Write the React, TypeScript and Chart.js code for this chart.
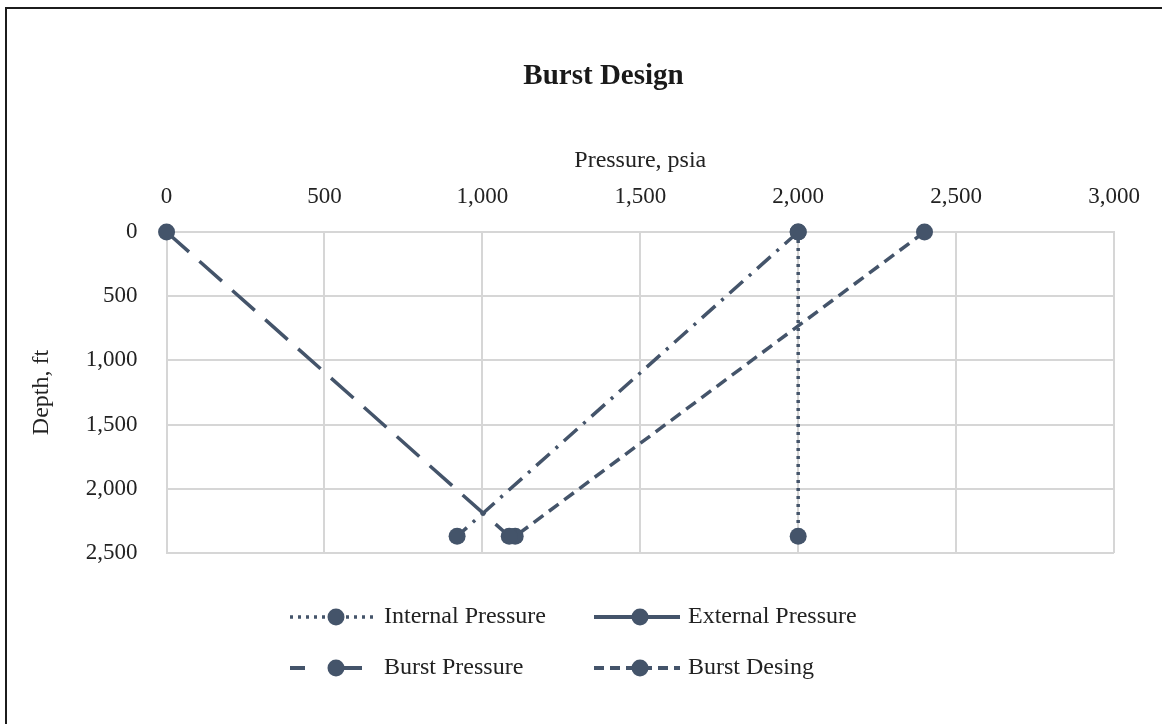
import React, { useEffect, useRef } from "react";
import { Chart, registerables } from "chart.js";

Chart.register(...registerables);

// ---- Data ----
const seriesNames = ["Internal Pressure", "External Pressure", "Burst Pressure", "Burst Desing"];
const depthFt = [0, 2370];
const internalPressure = [2000, 2000];
const externalPressure = [0, 1085];
const burstPressure = [2000, 920];
const burstDesign = [2400, 1104];
const xTickValues = [0, 500, 1000, 1500, 2000, 2500, 3000];
const yTickValues = [0, 500, 1000, 1500, 2000, 2500];

const FONT = "'Liberation Serif', 'Times New Roman', serif";
const SERIES_COLOR = "#44546A";
const GRID = "#d6d6d6";
const TEXT = "#222222";

const plotDashes: number[][] = [[3, 5], [30, 14], [18, 8, 3, 8], [12, 7]];
const legendDashes: number[][] = [[3, 5], [], [15, 31, 30], [10, 6]];

// Shift the chart title so it sits centred on the full (wider) framed figure
const titleShiftPlugin = {
  id: "titleShift",
  afterLayout(chart: any) {
    const tb = chart.titleBlock;
    if (tb) {
      tb.left += 33;
      tb.right += 33;
    }
  },
};

const legendPlugin = {
  id: "customLegend",
  afterDraw(chart: any) {
    const ctx = chart.ctx as CanvasRenderingContext2D;
    const cols = [290, 594];
    const rows = [617, 668];
    seriesNames.forEach((name, i) => {
      const x0 = cols[i % 2];
      const y = rows[Math.floor(i / 2)];
      ctx.save();
      ctx.strokeStyle = SERIES_COLOR;
      ctx.lineWidth = i === 0 ? 3.5 : 4;
      ctx.setLineDash(legendDashes[i]);
      ctx.beginPath();
      ctx.moveTo(x0, y);
      ctx.lineTo(x0 + (i === 2 ? 72 : 86), y);
      ctx.stroke();
      ctx.setLineDash([]);
      ctx.fillStyle = SERIES_COLOR;
      ctx.beginPath();
      ctx.arc(x0 + 46, y, 8.5, 0, Math.PI * 2);
      ctx.fill();
      ctx.fillStyle = TEXT;
      ctx.font = `24px ${FONT}`;
      ctx.textBaseline = "middle";
      ctx.textAlign = "left";
      ctx.fillText(name, x0 + 94, y);
      ctx.restore();
    });
  },
};

const fmt = (v: any) => Number(v).toLocaleString("en-US");

export default function App() {
  const canvasRef = useRef<HTMLCanvasElement | null>(null);

  useEffect(() => {
    if (!canvasRef.current) return;
    const seriesX = [internalPressure, externalPressure, burstPressure, burstDesign];
    const datasets = seriesX.map((xs, i) => ({
      label: seriesNames[i],
      data: xs.map((x, k) => ({ x, y: depthFt[k] })),
      showLine: true,
      borderColor: SERIES_COLOR,
      backgroundColor: SERIES_COLOR,
      borderWidth: 3.5,
      borderDash: plotDashes[i],
      pointRadius: 8.5,
      pointBorderWidth: 0,
      pointBackgroundColor: SERIES_COLOR,
      clip: false as any,
    }));

    const chart = new Chart(canvasRef.current, {
      type: "scatter",
      data: { datasets },
      plugins: [titleShiftPlugin, legendPlugin],
      options: {
        responsive: false,
        animation: false,
        devicePixelRatio: 1,
        events: [],
        layout: { padding: { left: 27, right: 48, top: 0, bottom: 171 } },
        plugins: {
          legend: { display: false },
          tooltip: { enabled: false },
          title: {
            display: true,
            text: "Burst Design",
            color: "#1a1a1a",
            font: { family: FONT, size: 29, weight: "bold" },
            padding: { top: 59, bottom: 52.4 },
          },
        },
        scales: {
          x: {
            type: "linear",
            position: "top",
            min: 0,
            max: 3000,
            afterBuildTicks: (scale: any) => {
              scale.ticks = xTickValues.map((value) => ({ value }));
            },
            ticks: {
              padding: 21.7,
              color: TEXT,
              font: { family: FONT, size: 23 },
              callback: fmt,
            },
            grid: { color: GRID, lineWidth: 2, drawTicks: false },
            border: { color: GRID, width: 2 },
            title: {
              display: true,
              text: "Pressure, psia",
              color: TEXT,
              font: { family: FONT, size: 24 },
              padding: { top: 0, bottom: -14 },
            },
          },
          y: {
            type: "linear",
            reverse: true,
            min: 0,
            max: 2500,
            afterBuildTicks: (scale: any) => {
              scale.ticks = yTickValues.map((value) => ({ value }));
            },
            ticks: {
              padding: 29,
              color: TEXT,
              font: { family: FONT, size: 23 },
              callback: fmt,
            },
            grid: { color: GRID, lineWidth: 2, drawTicks: false },
            border: { color: GRID, width: 2 },
            title: {
              display: true,
              text: "Depth, ft",
              color: TEXT,
              font: { family: FONT, size: 24 },
              padding: { top: 0, bottom: 1 },
            },
          },
        },
      } as any,
    });
    return () => chart.destroy();
  }, []);

  return (
    <div style={{ position: "fixed", left: 0, top: 0, width: 1162, height: 724, overflow: "hidden", background: "#fff" }}>
      <div
        style={{
          position: "absolute",
          left: 5,
          top: 7,
          width: 1400,
          height: 1000,
          borderTop: "2.5px solid #1c1c1c",
          borderLeft: "2px solid #1c1c1c",
        }}
      />
      <canvas
        ref={canvasRef}
        width={1162}
        height={724}
        style={{ position: "absolute", left: 0, top: 0, width: 1162, height: 724 }}
      />
    </div>
  );
}
